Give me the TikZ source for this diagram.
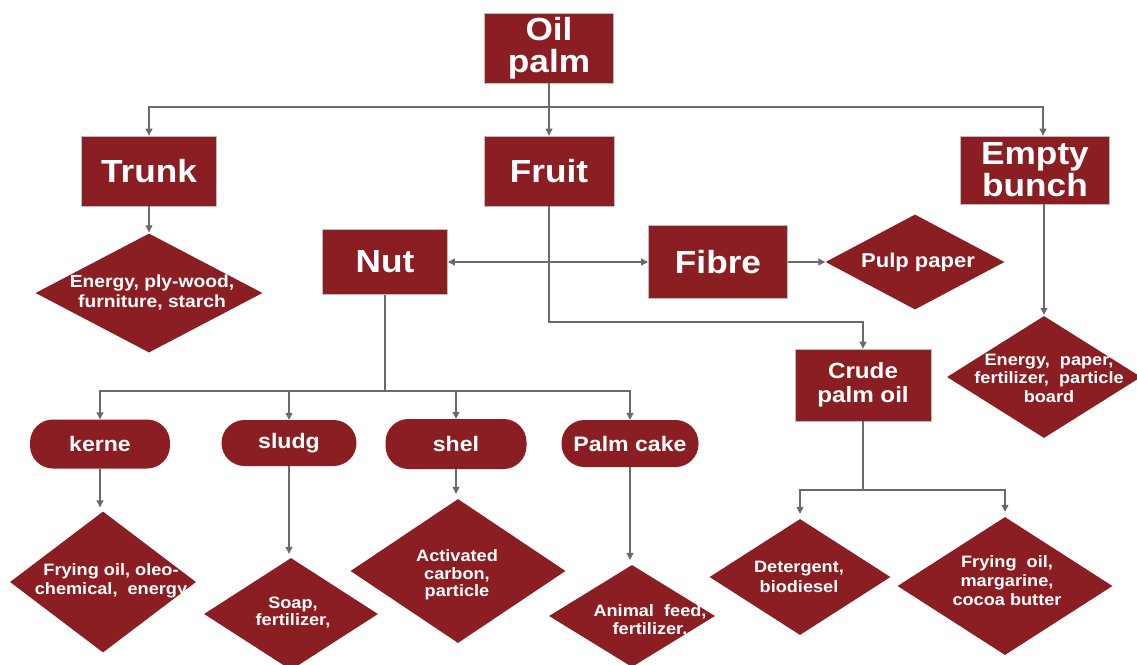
\documentclass[tikz,border=0pt]{standalone}
\usepackage{fontspec}
\setmainfont{Liberation Sans}[FakeStretch=1.1]
\usetikzlibrary{shapes.geometric,arrows.meta}
\definecolor{palmred}{HTML}{8B1E22}
\definecolor{linegray}{HTML}{6A6A6A}
\definecolor{edgegray}{HTML}{BDBDBD}
\begin{document}
\begin{tikzpicture}[x=1pt,y=-1pt,
  box/.style={rectangle, fill=palmred, draw=edgegray, line width=0.8pt, text=white,
    font=\bfseries\fontsize{32}{32}\selectfont, align=center, inner sep=0pt},
  crudebox/.style={box, font=\bfseries\fontsize{22}{24}\selectfont},
  pill/.style={rectangle, rounded corners=23pt, fill=palmred, text=white,
    font=\bfseries\fontsize{21}{24}\selectfont, inner sep=0pt},
  prod/.style={diamond, fill=palmred, inner sep=0pt},
  dtext/.style={text=white, align=center, inner sep=0pt, font=\bfseries\fontsize{16.5}{19}\selectfont},
  link/.style={draw=linegray, line width=1.2pt},
  arr/.style={link, -{Triangle[width=7pt,length=7pt]}},
  arrs/.style={link, {Triangle[width=7pt,length=7pt]}-{Triangle[width=7pt,length=7pt]}},
]
\useasboundingbox (0,0) rectangle (1137,664);

% rectangles
\node[box, minimum width=129, minimum height=70] (op) at (549,48) {Oil\\palm};
\node[box, minimum width=135, minimum height=70] (trunk) at (149,171) {Trunk};
\node[box, minimum width=130, minimum height=70] (fruit) at (549,171) {Fruit};
\node[box, minimum width=149, minimum height=68] (eb) at (1035,170) {Empty\\bunch};
\node[box, minimum width=125, minimum height=65] (nut) at (385,262) {Nut};
\node[box, minimum width=139, minimum height=73] (fibre) at (718,262) {Fibre};
\node[crudebox, minimum width=136, minimum height=72] (crude) at (863,385) {Crude\\palm oil};

% pills
\node[pill, minimum width=140, minimum height=49] (kerne) at (100,444) {kerne};
\node[pill, minimum width=135, minimum height=46] (sludg) at (289,443) {sludg};
\node[pill, minimum width=141, minimum height=50] (shel) at (456,444) {shel};
\node[pill, minimum width=137, minimum height=47] (cake) at (630,443.5) {Palm cake};

% diamonds
\node[prod, minimum width=227, minimum height=119] (dt) at (149,293) {};
\node[prod, minimum width=179, minimum height=95] (pulp) at (915,262) {};
\node[prod, minimum width=194, minimum height=122] (deb) at (1044,377) {};
\node[prod, minimum width=186, minimum height=141] (dk) at (103,582) {};
\node[prod, minimum width=174, minimum height=112] (ds) at (291,614) {};
\node[prod, minimum width=215, minimum height=144] (dsh) at (458,571) {};
\node[prod, minimum width=166, minimum height=102] (dpc) at (632,616) {};
\node[prod, minimum width=181, minimum height=116] (dd) at (800,577) {};
\node[prod, minimum width=215, minimum height=138] (df) at (1005,586) {};

% diamond texts
\node[dtext, font=\bfseries\fontsize{17.5}{20}\selectfont] (tt) at (152,293) {Energy, ply-wood,\\furniture, starch};
\node[dtext, font=\bfseries\fontsize{20}{22}\selectfont] (tpulp) at (918,262) {Pulp paper};
\node[dtext, font=\bfseries\fontsize{16.5}{18.5}\selectfont] (teb) at (1049,378) {Energy, \ paper,\\fertilizer, \ particle\\board};
\node[dtext] (tk) at (111,581) {Frying oil, oleo-\\chemical, \ energy};
\node[dtext, font=\bfseries\fontsize{16.5}{17}\selectfont] (ts) at (293,613) {Soap,\\fertilizer,};
\node[dtext, font=\bfseries\fontsize{16.5}{17.5}\selectfont] (tsh) at (457,575) {Activated\\carbon,\\particle};
\node[dtext, font=\bfseries\fontsize{16.5}{18}\selectfont] (tpc) at (650,621) {Animal \ feed,\\fertilizer,};
\node[dtext, font=\bfseries\fontsize{16.5}{20}\selectfont] (td) at (799,577) {Detergent,\\biodiesel};
\node[dtext] (tf) at (1007,581) {Frying \ oil,\\margarine,\\cocoa butter};

% connectors
\coordinate (j1) at (549,107);
\draw[arr] (op.south) -- (fruit.north);
\draw[arr] (j1) -| (trunk.north);
\draw[arr] (j1) -| ([xshift=8pt]eb.north);
\draw[arr, shorten >=1pt] (trunk.south) -- (dt.north);
\draw[arrs] (nut.east) -- (fibre.west);
\draw[arr] (fibre.east) -- (pulp.west);
\coordinate (j2) at (549,322);
\draw[arr] (fruit.south) -- (j2) -| (crude.north);
\draw[arr, shorten >=1pt] (deb.north |- eb.south) -- (deb.north);

\coordinate (j3) at (385,391);
\draw[link] (nut.south) -- (j3);
\draw[arr] (j3) -| (kerne.north);
\draw[arr] (j3) -| (sludg.north);
\draw[arr] (j3) -| (shel.north);
\draw[arr] (j3) -| (cake.north);

\draw[arr, shorten >=4pt] (kerne.south) -- (kerne.south |- dk.north);
\draw[arr, shorten >=4pt] (sludg.south) -- (sludg.south |- ds.north);
\draw[arr, shorten >=5pt] (shel.south) -- (shel.south |- dsh.north);
\draw[arr, shorten >=5pt] (cake.south) -- (cake.south |- dpc.north);

\coordinate (j4) at (863,490);
\draw[link] (crude.south) -- (j4);
\draw[arr, shorten >=5pt] (j4) -| (dd.north);
\draw[arr, shorten >=5pt] (j4) -| (df.north);
\end{tikzpicture}
\end{document}
